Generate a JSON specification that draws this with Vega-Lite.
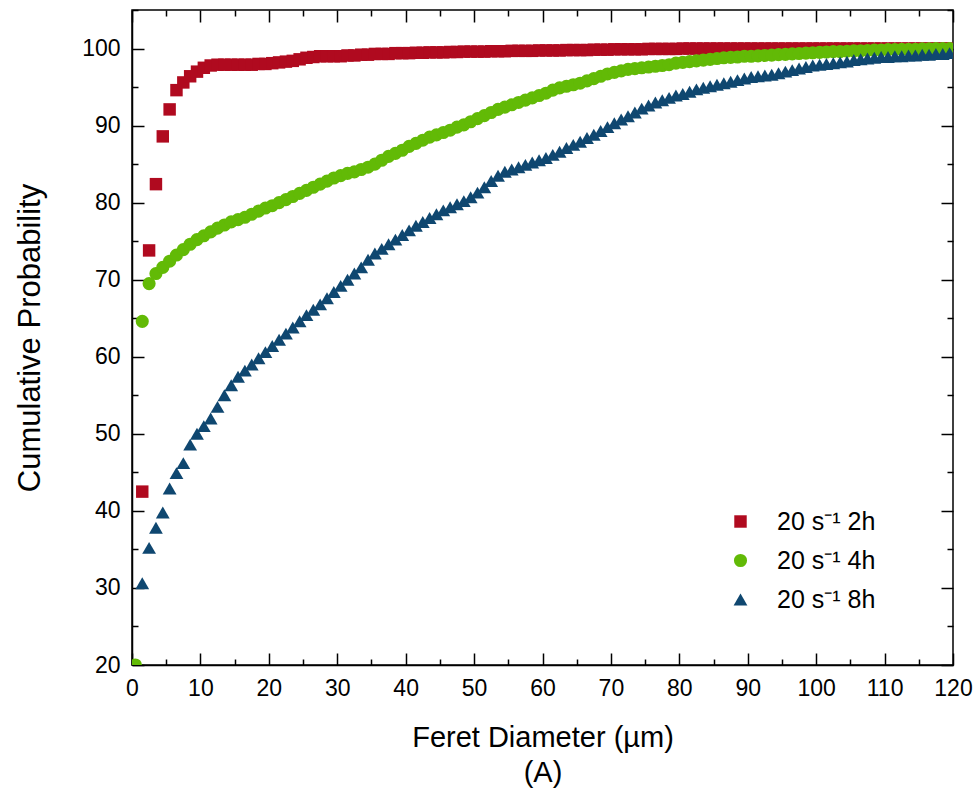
{
  "$schema": "https://vega.github.io/schema/vega-lite/v6.json",
  "width": 821,
  "height": 655,
  "autosize": "none",
  "padding": {"left": 132, "top": 10, "right": 23, "bottom": 126},
  "background": "white",
  "config": {
    "font": "Liberation Sans",
    "view": {"stroke": "black", "strokeWidth": 1.5},
    "axis": {"grid": false, "domainColor": "black", "domainWidth": 1.5, "tickColor": "black", "tickWidth": 1.5, "labelColor": "black", "titleColor": "black", "labelFont": "Liberation Sans", "titleFont": "Liberation Sans", "titleFontWeight": "normal"}
  },
  "datasets": {
    "pts": [
      {"s": "20 s⁻¹ 2h", "x": 1.5, "p": 42.5}, {"s": "20 s⁻¹ 2h", "x": 2.5, "p": 73.8}, {"s": "20 s⁻¹ 2h", "x": 3.5, "p": 82.4}, {"s": "20 s⁻¹ 2h", "x": 4.5, "p": 88.6}, {"s": "20 s⁻¹ 2h", "x": 5.5, "p": 92.1}, {"s": "20 s⁻¹ 2h", "x": 6.5, "p": 94.6}, {"s": "20 s⁻¹ 2h", "x": 7.5, "p": 95.6}, {"s": "20 s⁻¹ 2h", "x": 8.5, "p": 96.4}, {"s": "20 s⁻¹ 2h", "x": 9.5, "p": 97.0}, {"s": "20 s⁻¹ 2h", "x": 10.5, "p": 97.5},
      {"s": "20 s⁻¹ 2h", "x": 11.5, "p": 97.8}, {"s": "20 s⁻¹ 2h", "x": 12.5, "p": 97.9}, {"s": "20 s⁻¹ 2h", "x": 13.5, "p": 97.9}, {"s": "20 s⁻¹ 2h", "x": 14.5, "p": 97.9}, {"s": "20 s⁻¹ 2h", "x": 15.5, "p": 97.9}, {"s": "20 s⁻¹ 2h", "x": 16.5, "p": 97.9}, {"s": "20 s⁻¹ 2h", "x": 17.5, "p": 97.9}, {"s": "20 s⁻¹ 2h", "x": 18.5, "p": 98.0}, {"s": "20 s⁻¹ 2h", "x": 19.5, "p": 98.0}, {"s": "20 s⁻¹ 2h", "x": 20.5, "p": 98.1},
      {"s": "20 s⁻¹ 2h", "x": 21.5, "p": 98.2}, {"s": "20 s⁻¹ 2h", "x": 22.5, "p": 98.3}, {"s": "20 s⁻¹ 2h", "x": 23.5, "p": 98.4}, {"s": "20 s⁻¹ 2h", "x": 24.5, "p": 98.6}, {"s": "20 s⁻¹ 2h", "x": 25.5, "p": 98.8}, {"s": "20 s⁻¹ 2h", "x": 26.5, "p": 98.9}, {"s": "20 s⁻¹ 2h", "x": 27.5, "p": 99.0}, {"s": "20 s⁻¹ 2h", "x": 28.5, "p": 99.0}, {"s": "20 s⁻¹ 2h", "x": 29.5, "p": 99.0}, {"s": "20 s⁻¹ 2h", "x": 30.5, "p": 99.0},
      {"s": "20 s⁻¹ 2h", "x": 31.5, "p": 99.1}, {"s": "20 s⁻¹ 2h", "x": 32.5, "p": 99.1}, {"s": "20 s⁻¹ 2h", "x": 33.5, "p": 99.2}, {"s": "20 s⁻¹ 2h", "x": 34.5, "p": 99.2}, {"s": "20 s⁻¹ 2h", "x": 35.5, "p": 99.3}, {"s": "20 s⁻¹ 2h", "x": 36.5, "p": 99.3}, {"s": "20 s⁻¹ 2h", "x": 37.5, "p": 99.3}, {"s": "20 s⁻¹ 2h", "x": 38.5, "p": 99.4}, {"s": "20 s⁻¹ 2h", "x": 39.5, "p": 99.4}, {"s": "20 s⁻¹ 2h", "x": 40.5, "p": 99.4},
      {"s": "20 s⁻¹ 2h", "x": 41.5, "p": 99.45}, {"s": "20 s⁻¹ 2h", "x": 42.5, "p": 99.45}, {"s": "20 s⁻¹ 2h", "x": 43.5, "p": 99.5}, {"s": "20 s⁻¹ 2h", "x": 44.5, "p": 99.5}, {"s": "20 s⁻¹ 2h", "x": 45.5, "p": 99.5}, {"s": "20 s⁻¹ 2h", "x": 46.5, "p": 99.55}, {"s": "20 s⁻¹ 2h", "x": 47.5, "p": 99.55}, {"s": "20 s⁻¹ 2h", "x": 48.5, "p": 99.6}, {"s": "20 s⁻¹ 2h", "x": 49.5, "p": 99.6}, {"s": "20 s⁻¹ 2h", "x": 50.5, "p": 99.6},
      {"s": "20 s⁻¹ 2h", "x": 51.5, "p": 99.6}, {"s": "20 s⁻¹ 2h", "x": 52.5, "p": 99.65}, {"s": "20 s⁻¹ 2h", "x": 53.5, "p": 99.65}, {"s": "20 s⁻¹ 2h", "x": 54.5, "p": 99.65}, {"s": "20 s⁻¹ 2h", "x": 55.5, "p": 99.7}, {"s": "20 s⁻¹ 2h", "x": 56.5, "p": 99.7}, {"s": "20 s⁻¹ 2h", "x": 57.5, "p": 99.7}, {"s": "20 s⁻¹ 2h", "x": 58.5, "p": 99.7}, {"s": "20 s⁻¹ 2h", "x": 59.5, "p": 99.75}, {"s": "20 s⁻¹ 2h", "x": 60.5, "p": 99.75},
      {"s": "20 s⁻¹ 2h", "x": 61.5, "p": 99.75}, {"s": "20 s⁻¹ 2h", "x": 62.5, "p": 99.75}, {"s": "20 s⁻¹ 2h", "x": 63.5, "p": 99.8}, {"s": "20 s⁻¹ 2h", "x": 64.5, "p": 99.8}, {"s": "20 s⁻¹ 2h", "x": 65.5, "p": 99.8}, {"s": "20 s⁻¹ 2h", "x": 66.5, "p": 99.8}, {"s": "20 s⁻¹ 2h", "x": 67.5, "p": 99.85}, {"s": "20 s⁻¹ 2h", "x": 68.5, "p": 99.85}, {"s": "20 s⁻¹ 2h", "x": 69.5, "p": 99.85}, {"s": "20 s⁻¹ 2h", "x": 70.5, "p": 99.9},
      {"s": "20 s⁻¹ 2h", "x": 71.5, "p": 99.9}, {"s": "20 s⁻¹ 2h", "x": 72.5, "p": 99.9}, {"s": "20 s⁻¹ 2h", "x": 73.5, "p": 99.9}, {"s": "20 s⁻¹ 2h", "x": 74.5, "p": 99.9}, {"s": "20 s⁻¹ 2h", "x": 75.5, "p": 99.95}, {"s": "20 s⁻¹ 2h", "x": 76.5, "p": 99.95}, {"s": "20 s⁻¹ 2h", "x": 77.5, "p": 99.95}, {"s": "20 s⁻¹ 2h", "x": 78.5, "p": 99.95}, {"s": "20 s⁻¹ 2h", "x": 79.5, "p": 99.95}, {"s": "20 s⁻¹ 2h", "x": 80.5, "p": 100},
      {"s": "20 s⁻¹ 2h", "x": 81.5, "p": 100}, {"s": "20 s⁻¹ 2h", "x": 82.5, "p": 100}, {"s": "20 s⁻¹ 2h", "x": 83.5, "p": 100}, {"s": "20 s⁻¹ 2h", "x": 84.5, "p": 100}, {"s": "20 s⁻¹ 2h", "x": 85.5, "p": 100}, {"s": "20 s⁻¹ 2h", "x": 86.5, "p": 100}, {"s": "20 s⁻¹ 2h", "x": 87.5, "p": 100}, {"s": "20 s⁻¹ 2h", "x": 88.5, "p": 100}, {"s": "20 s⁻¹ 2h", "x": 89.5, "p": 100}, {"s": "20 s⁻¹ 2h", "x": 90.5, "p": 100},
      {"s": "20 s⁻¹ 2h", "x": 91.5, "p": 100}, {"s": "20 s⁻¹ 2h", "x": 92.5, "p": 100}, {"s": "20 s⁻¹ 2h", "x": 93.5, "p": 100}, {"s": "20 s⁻¹ 2h", "x": 94.5, "p": 100}, {"s": "20 s⁻¹ 2h", "x": 95.5, "p": 100}, {"s": "20 s⁻¹ 2h", "x": 96.5, "p": 100}, {"s": "20 s⁻¹ 2h", "x": 97.5, "p": 100}, {"s": "20 s⁻¹ 2h", "x": 98.5, "p": 100}, {"s": "20 s⁻¹ 2h", "x": 99.5, "p": 100}, {"s": "20 s⁻¹ 2h", "x": 100.5, "p": 100},
      {"s": "20 s⁻¹ 2h", "x": 101.5, "p": 100}, {"s": "20 s⁻¹ 2h", "x": 102.5, "p": 100}, {"s": "20 s⁻¹ 2h", "x": 103.5, "p": 100}, {"s": "20 s⁻¹ 2h", "x": 104.5, "p": 100}, {"s": "20 s⁻¹ 2h", "x": 105.5, "p": 100}, {"s": "20 s⁻¹ 2h", "x": 106.5, "p": 100}, {"s": "20 s⁻¹ 2h", "x": 107.5, "p": 100}, {"s": "20 s⁻¹ 2h", "x": 108.5, "p": 100}, {"s": "20 s⁻¹ 2h", "x": 109.5, "p": 100}, {"s": "20 s⁻¹ 2h", "x": 110.5, "p": 100},
      {"s": "20 s⁻¹ 2h", "x": 111.5, "p": 100}, {"s": "20 s⁻¹ 2h", "x": 112.5, "p": 100}, {"s": "20 s⁻¹ 2h", "x": 113.5, "p": 100}, {"s": "20 s⁻¹ 2h", "x": 114.5, "p": 100}, {"s": "20 s⁻¹ 2h", "x": 115.5, "p": 100}, {"s": "20 s⁻¹ 2h", "x": 116.5, "p": 100}, {"s": "20 s⁻¹ 2h", "x": 117.5, "p": 100}, {"s": "20 s⁻¹ 2h", "x": 118.5, "p": 100}, {"s": "20 s⁻¹ 2h", "x": 119.5, "p": 100},

      {"s": "20 s⁻¹ 4h", "x": 0.5, "p": 20.0}, {"s": "20 s⁻¹ 4h", "x": 1.5, "p": 64.6}, {"s": "20 s⁻¹ 4h", "x": 2.5, "p": 69.5}, {"s": "20 s⁻¹ 4h", "x": 3.5, "p": 70.8}, {"s": "20 s⁻¹ 4h", "x": 4.5, "p": 71.6}, {"s": "20 s⁻¹ 4h", "x": 5.5, "p": 72.4}, {"s": "20 s⁻¹ 4h", "x": 6.5, "p": 73.2}, {"s": "20 s⁻¹ 4h", "x": 7.5, "p": 73.9}, {"s": "20 s⁻¹ 4h", "x": 8.5, "p": 74.6}, {"s": "20 s⁻¹ 4h", "x": 9.5, "p": 75.2}, {"s": "20 s⁻¹ 4h", "x": 10.5, "p": 75.7},
      {"s": "20 s⁻¹ 4h", "x": 11.5, "p": 76.2}, {"s": "20 s⁻¹ 4h", "x": 12.5, "p": 76.7}, {"s": "20 s⁻¹ 4h", "x": 13.5, "p": 77.1}, {"s": "20 s⁻¹ 4h", "x": 14.5, "p": 77.5}, {"s": "20 s⁻¹ 4h", "x": 15.5, "p": 77.8}, {"s": "20 s⁻¹ 4h", "x": 16.5, "p": 78.1}, {"s": "20 s⁻¹ 4h", "x": 17.5, "p": 78.5}, {"s": "20 s⁻¹ 4h", "x": 18.5, "p": 78.9}, {"s": "20 s⁻¹ 4h", "x": 19.5, "p": 79.3}, {"s": "20 s⁻¹ 4h", "x": 20.5, "p": 79.6},
      {"s": "20 s⁻¹ 4h", "x": 21.5, "p": 80.0}, {"s": "20 s⁻¹ 4h", "x": 22.5, "p": 80.4}, {"s": "20 s⁻¹ 4h", "x": 23.5, "p": 80.8}, {"s": "20 s⁻¹ 4h", "x": 24.5, "p": 81.2}, {"s": "20 s⁻¹ 4h", "x": 25.5, "p": 81.6}, {"s": "20 s⁻¹ 4h", "x": 26.5, "p": 82.0}, {"s": "20 s⁻¹ 4h", "x": 27.5, "p": 82.4}, {"s": "20 s⁻¹ 4h", "x": 28.5, "p": 82.8}, {"s": "20 s⁻¹ 4h", "x": 29.5, "p": 83.2}, {"s": "20 s⁻¹ 4h", "x": 30.5, "p": 83.5},
      {"s": "20 s⁻¹ 4h", "x": 31.5, "p": 83.8}, {"s": "20 s⁻¹ 4h", "x": 32.5, "p": 84.0}, {"s": "20 s⁻¹ 4h", "x": 33.5, "p": 84.3}, {"s": "20 s⁻¹ 4h", "x": 34.5, "p": 84.6}, {"s": "20 s⁻¹ 4h", "x": 35.5, "p": 85.0}, {"s": "20 s⁻¹ 4h", "x": 36.5, "p": 85.5}, {"s": "20 s⁻¹ 4h", "x": 37.5, "p": 86.0}, {"s": "20 s⁻¹ 4h", "x": 38.5, "p": 86.4}, {"s": "20 s⁻¹ 4h", "x": 39.5, "p": 86.8}, {"s": "20 s⁻¹ 4h", "x": 40.5, "p": 87.3},
      {"s": "20 s⁻¹ 4h", "x": 41.5, "p": 87.7}, {"s": "20 s⁻¹ 4h", "x": 42.5, "p": 88.1}, {"s": "20 s⁻¹ 4h", "x": 43.5, "p": 88.5}, {"s": "20 s⁻¹ 4h", "x": 44.5, "p": 88.8}, {"s": "20 s⁻¹ 4h", "x": 45.5, "p": 89.1}, {"s": "20 s⁻¹ 4h", "x": 46.5, "p": 89.4}, {"s": "20 s⁻¹ 4h", "x": 47.5, "p": 89.8}, {"s": "20 s⁻¹ 4h", "x": 48.5, "p": 90.1}, {"s": "20 s⁻¹ 4h", "x": 49.5, "p": 90.5}, {"s": "20 s⁻¹ 4h", "x": 50.5, "p": 90.9},
      {"s": "20 s⁻¹ 4h", "x": 51.5, "p": 91.3}, {"s": "20 s⁻¹ 4h", "x": 52.5, "p": 91.7}, {"s": "20 s⁻¹ 4h", "x": 53.5, "p": 92.1}, {"s": "20 s⁻¹ 4h", "x": 54.5, "p": 92.4}, {"s": "20 s⁻¹ 4h", "x": 55.5, "p": 92.7}, {"s": "20 s⁻¹ 4h", "x": 56.5, "p": 93.0}, {"s": "20 s⁻¹ 4h", "x": 57.5, "p": 93.3}, {"s": "20 s⁻¹ 4h", "x": 58.5, "p": 93.6}, {"s": "20 s⁻¹ 4h", "x": 59.5, "p": 93.9}, {"s": "20 s⁻¹ 4h", "x": 60.5, "p": 94.2},
      {"s": "20 s⁻¹ 4h", "x": 61.5, "p": 94.6}, {"s": "20 s⁻¹ 4h", "x": 62.5, "p": 94.9}, {"s": "20 s⁻¹ 4h", "x": 63.5, "p": 95.1}, {"s": "20 s⁻¹ 4h", "x": 64.5, "p": 95.3}, {"s": "20 s⁻¹ 4h", "x": 65.5, "p": 95.5}, {"s": "20 s⁻¹ 4h", "x": 66.5, "p": 95.8}, {"s": "20 s⁻¹ 4h", "x": 67.5, "p": 96.1}, {"s": "20 s⁻¹ 4h", "x": 68.5, "p": 96.4}, {"s": "20 s⁻¹ 4h", "x": 69.5, "p": 96.7}, {"s": "20 s⁻¹ 4h", "x": 70.5, "p": 96.9},
      {"s": "20 s⁻¹ 4h", "x": 71.5, "p": 97.1}, {"s": "20 s⁻¹ 4h", "x": 72.5, "p": 97.3}, {"s": "20 s⁻¹ 4h", "x": 73.5, "p": 97.4}, {"s": "20 s⁻¹ 4h", "x": 74.5, "p": 97.5}, {"s": "20 s⁻¹ 4h", "x": 75.5, "p": 97.6}, {"s": "20 s⁻¹ 4h", "x": 76.5, "p": 97.7}, {"s": "20 s⁻¹ 4h", "x": 77.5, "p": 97.8}, {"s": "20 s⁻¹ 4h", "x": 78.5, "p": 97.9}, {"s": "20 s⁻¹ 4h", "x": 79.5, "p": 98.1}, {"s": "20 s⁻¹ 4h", "x": 80.5, "p": 98.2},
      {"s": "20 s⁻¹ 4h", "x": 81.5, "p": 98.3}, {"s": "20 s⁻¹ 4h", "x": 82.5, "p": 98.4}, {"s": "20 s⁻¹ 4h", "x": 83.5, "p": 98.5}, {"s": "20 s⁻¹ 4h", "x": 84.5, "p": 98.6}, {"s": "20 s⁻¹ 4h", "x": 85.5, "p": 98.7}, {"s": "20 s⁻¹ 4h", "x": 86.5, "p": 98.8}, {"s": "20 s⁻¹ 4h", "x": 87.5, "p": 98.85}, {"s": "20 s⁻¹ 4h", "x": 88.5, "p": 98.9}, {"s": "20 s⁻¹ 4h", "x": 89.5, "p": 99.0}, {"s": "20 s⁻¹ 4h", "x": 90.5, "p": 99.0},
      {"s": "20 s⁻¹ 4h", "x": 91.5, "p": 99.05}, {"s": "20 s⁻¹ 4h", "x": 92.5, "p": 99.1}, {"s": "20 s⁻¹ 4h", "x": 93.5, "p": 99.15}, {"s": "20 s⁻¹ 4h", "x": 94.5, "p": 99.2}, {"s": "20 s⁻¹ 4h", "x": 95.5, "p": 99.25}, {"s": "20 s⁻¹ 4h", "x": 96.5, "p": 99.3}, {"s": "20 s⁻¹ 4h", "x": 97.5, "p": 99.35}, {"s": "20 s⁻¹ 4h", "x": 98.5, "p": 99.4}, {"s": "20 s⁻¹ 4h", "x": 99.5, "p": 99.45}, {"s": "20 s⁻¹ 4h", "x": 100.5, "p": 99.5},
      {"s": "20 s⁻¹ 4h", "x": 101.5, "p": 99.55}, {"s": "20 s⁻¹ 4h", "x": 102.5, "p": 99.6}, {"s": "20 s⁻¹ 4h", "x": 103.5, "p": 99.6}, {"s": "20 s⁻¹ 4h", "x": 104.5, "p": 99.65}, {"s": "20 s⁻¹ 4h", "x": 105.5, "p": 99.7}, {"s": "20 s⁻¹ 4h", "x": 106.5, "p": 99.7}, {"s": "20 s⁻¹ 4h", "x": 107.5, "p": 99.75}, {"s": "20 s⁻¹ 4h", "x": 108.5, "p": 99.8}, {"s": "20 s⁻¹ 4h", "x": 109.5, "p": 99.8}, {"s": "20 s⁻¹ 4h", "x": 110.5, "p": 99.85},
      {"s": "20 s⁻¹ 4h", "x": 111.5, "p": 99.85}, {"s": "20 s⁻¹ 4h", "x": 112.5, "p": 99.9}, {"s": "20 s⁻¹ 4h", "x": 113.5, "p": 99.9}, {"s": "20 s⁻¹ 4h", "x": 114.5, "p": 99.9}, {"s": "20 s⁻¹ 4h", "x": 115.5, "p": 99.95}, {"s": "20 s⁻¹ 4h", "x": 116.5, "p": 99.95}, {"s": "20 s⁻¹ 4h", "x": 117.5, "p": 100}, {"s": "20 s⁻¹ 4h", "x": 118.5, "p": 100}, {"s": "20 s⁻¹ 4h", "x": 119.5, "p": 100},

      {"s": "20 s⁻¹ 8h", "x": 1.5, "p": 30.6}, {"s": "20 s⁻¹ 8h", "x": 2.5, "p": 35.2}, {"s": "20 s⁻¹ 8h", "x": 3.5, "p": 37.8}, {"s": "20 s⁻¹ 8h", "x": 4.5, "p": 39.8}, {"s": "20 s⁻¹ 8h", "x": 5.5, "p": 42.9}, {"s": "20 s⁻¹ 8h", "x": 6.5, "p": 44.9}, {"s": "20 s⁻¹ 8h", "x": 7.5, "p": 46.2}, {"s": "20 s⁻¹ 8h", "x": 8.5, "p": 48.6}, {"s": "20 s⁻¹ 8h", "x": 9.5, "p": 50.0}, {"s": "20 s⁻¹ 8h", "x": 10.5, "p": 51.0},
      {"s": "20 s⁻¹ 8h", "x": 11.5, "p": 52.0}, {"s": "20 s⁻¹ 8h", "x": 12.5, "p": 53.5}, {"s": "20 s⁻¹ 8h", "x": 13.5, "p": 55.0}, {"s": "20 s⁻¹ 8h", "x": 14.5, "p": 56.3}, {"s": "20 s⁻¹ 8h", "x": 15.5, "p": 57.4}, {"s": "20 s⁻¹ 8h", "x": 16.5, "p": 58.2}, {"s": "20 s⁻¹ 8h", "x": 17.5, "p": 59.0}, {"s": "20 s⁻¹ 8h", "x": 18.5, "p": 59.8}, {"s": "20 s⁻¹ 8h", "x": 19.5, "p": 60.6}, {"s": "20 s⁻¹ 8h", "x": 20.5, "p": 61.4},
      {"s": "20 s⁻¹ 8h", "x": 21.5, "p": 62.2}, {"s": "20 s⁻¹ 8h", "x": 22.5, "p": 63.0}, {"s": "20 s⁻¹ 8h", "x": 23.5, "p": 63.8}, {"s": "20 s⁻¹ 8h", "x": 24.5, "p": 64.6}, {"s": "20 s⁻¹ 8h", "x": 25.5, "p": 65.4}, {"s": "20 s⁻¹ 8h", "x": 26.5, "p": 66.1}, {"s": "20 s⁻¹ 8h", "x": 27.5, "p": 66.8}, {"s": "20 s⁻¹ 8h", "x": 28.5, "p": 67.6}, {"s": "20 s⁻¹ 8h", "x": 29.5, "p": 68.4}, {"s": "20 s⁻¹ 8h", "x": 30.5, "p": 69.2},
      {"s": "20 s⁻¹ 8h", "x": 31.5, "p": 70.0}, {"s": "20 s⁻¹ 8h", "x": 32.5, "p": 70.8}, {"s": "20 s⁻¹ 8h", "x": 33.5, "p": 71.6}, {"s": "20 s⁻¹ 8h", "x": 34.5, "p": 72.6}, {"s": "20 s⁻¹ 8h", "x": 35.5, "p": 73.4}, {"s": "20 s⁻¹ 8h", "x": 36.5, "p": 74.0}, {"s": "20 s⁻¹ 8h", "x": 37.5, "p": 74.6}, {"s": "20 s⁻¹ 8h", "x": 38.5, "p": 75.2}, {"s": "20 s⁻¹ 8h", "x": 39.5, "p": 75.8}, {"s": "20 s⁻¹ 8h", "x": 40.5, "p": 76.4},
      {"s": "20 s⁻¹ 8h", "x": 41.5, "p": 77.0}, {"s": "20 s⁻¹ 8h", "x": 42.5, "p": 77.5}, {"s": "20 s⁻¹ 8h", "x": 43.5, "p": 78.0}, {"s": "20 s⁻¹ 8h", "x": 44.5, "p": 78.5}, {"s": "20 s⁻¹ 8h", "x": 45.5, "p": 79.0}, {"s": "20 s⁻¹ 8h", "x": 46.5, "p": 79.4}, {"s": "20 s⁻¹ 8h", "x": 47.5, "p": 79.8}, {"s": "20 s⁻¹ 8h", "x": 48.5, "p": 80.2}, {"s": "20 s⁻¹ 8h", "x": 49.5, "p": 80.7}, {"s": "20 s⁻¹ 8h", "x": 50.5, "p": 81.3},
      {"s": "20 s⁻¹ 8h", "x": 51.5, "p": 82.0}, {"s": "20 s⁻¹ 8h", "x": 52.5, "p": 82.8}, {"s": "20 s⁻¹ 8h", "x": 53.5, "p": 83.5}, {"s": "20 s⁻¹ 8h", "x": 54.5, "p": 84.0}, {"s": "20 s⁻¹ 8h", "x": 55.5, "p": 84.3}, {"s": "20 s⁻¹ 8h", "x": 56.5, "p": 84.6}, {"s": "20 s⁻¹ 8h", "x": 57.5, "p": 84.9}, {"s": "20 s⁻¹ 8h", "x": 58.5, "p": 85.2}, {"s": "20 s⁻¹ 8h", "x": 59.5, "p": 85.5}, {"s": "20 s⁻¹ 8h", "x": 60.5, "p": 85.8},
      {"s": "20 s⁻¹ 8h", "x": 61.5, "p": 86.2}, {"s": "20 s⁻¹ 8h", "x": 62.5, "p": 86.6}, {"s": "20 s⁻¹ 8h", "x": 63.5, "p": 87.1}, {"s": "20 s⁻¹ 8h", "x": 64.5, "p": 87.5}, {"s": "20 s⁻¹ 8h", "x": 65.5, "p": 87.9}, {"s": "20 s⁻¹ 8h", "x": 66.5, "p": 88.4}, {"s": "20 s⁻¹ 8h", "x": 67.5, "p": 88.8}, {"s": "20 s⁻¹ 8h", "x": 68.5, "p": 89.3}, {"s": "20 s⁻¹ 8h", "x": 69.5, "p": 89.8}, {"s": "20 s⁻¹ 8h", "x": 70.5, "p": 90.3},
      {"s": "20 s⁻¹ 8h", "x": 71.5, "p": 90.8}, {"s": "20 s⁻¹ 8h", "x": 72.5, "p": 91.2}, {"s": "20 s⁻¹ 8h", "x": 73.5, "p": 91.7}, {"s": "20 s⁻¹ 8h", "x": 74.5, "p": 92.2}, {"s": "20 s⁻¹ 8h", "x": 75.5, "p": 92.6}, {"s": "20 s⁻¹ 8h", "x": 76.5, "p": 93.0}, {"s": "20 s⁻¹ 8h", "x": 77.5, "p": 93.3}, {"s": "20 s⁻¹ 8h", "x": 78.5, "p": 93.6}, {"s": "20 s⁻¹ 8h", "x": 79.5, "p": 93.9}, {"s": "20 s⁻¹ 8h", "x": 80.5, "p": 94.1},
      {"s": "20 s⁻¹ 8h", "x": 81.5, "p": 94.4}, {"s": "20 s⁻¹ 8h", "x": 82.5, "p": 94.7}, {"s": "20 s⁻¹ 8h", "x": 83.5, "p": 94.9}, {"s": "20 s⁻¹ 8h", "x": 84.5, "p": 95.1}, {"s": "20 s⁻¹ 8h", "x": 85.5, "p": 95.3}, {"s": "20 s⁻¹ 8h", "x": 86.5, "p": 95.5}, {"s": "20 s⁻¹ 8h", "x": 87.5, "p": 95.7}, {"s": "20 s⁻¹ 8h", "x": 88.5, "p": 95.9}, {"s": "20 s⁻¹ 8h", "x": 89.5, "p": 96.1}, {"s": "20 s⁻¹ 8h", "x": 90.5, "p": 96.3},
      {"s": "20 s⁻¹ 8h", "x": 91.5, "p": 96.4}, {"s": "20 s⁻¹ 8h", "x": 92.5, "p": 96.5}, {"s": "20 s⁻¹ 8h", "x": 93.5, "p": 96.6}, {"s": "20 s⁻¹ 8h", "x": 94.5, "p": 96.8}, {"s": "20 s⁻¹ 8h", "x": 95.5, "p": 97.0}, {"s": "20 s⁻¹ 8h", "x": 96.5, "p": 97.2}, {"s": "20 s⁻¹ 8h", "x": 97.5, "p": 97.4}, {"s": "20 s⁻¹ 8h", "x": 98.5, "p": 97.6}, {"s": "20 s⁻¹ 8h", "x": 99.5, "p": 97.8}, {"s": "20 s⁻¹ 8h", "x": 100.5, "p": 97.9},
      {"s": "20 s⁻¹ 8h", "x": 101.5, "p": 98.0}, {"s": "20 s⁻¹ 8h", "x": 102.5, "p": 98.1}, {"s": "20 s⁻¹ 8h", "x": 103.5, "p": 98.2}, {"s": "20 s⁻¹ 8h", "x": 104.5, "p": 98.3}, {"s": "20 s⁻¹ 8h", "x": 105.5, "p": 98.5}, {"s": "20 s⁻¹ 8h", "x": 106.5, "p": 98.6}, {"s": "20 s⁻¹ 8h", "x": 107.5, "p": 98.7}, {"s": "20 s⁻¹ 8h", "x": 108.5, "p": 98.8}, {"s": "20 s⁻¹ 8h", "x": 109.5, "p": 98.9}, {"s": "20 s⁻¹ 8h", "x": 110.5, "p": 98.9},
      {"s": "20 s⁻¹ 8h", "x": 111.5, "p": 99.0}, {"s": "20 s⁻¹ 8h", "x": 112.5, "p": 99.0}, {"s": "20 s⁻¹ 8h", "x": 113.5, "p": 99.1}, {"s": "20 s⁻¹ 8h", "x": 114.5, "p": 99.1}, {"s": "20 s⁻¹ 8h", "x": 115.5, "p": 99.2}, {"s": "20 s⁻¹ 8h", "x": 116.5, "p": 99.2}, {"s": "20 s⁻¹ 8h", "x": 117.5, "p": 99.3}, {"s": "20 s⁻¹ 8h", "x": 118.5, "p": 99.3}, {"s": "20 s⁻¹ 8h", "x": 119.5, "p": 99.4}
    ]
  },
  "data": {"name": "pts"},
  "layer": [
    {
      "mark": {"type": "point", "filled": true, "opacity": 1, "clip": true},
      "encoding": {
        "x": {
          "field": "x", "type": "quantitative",
          "scale": {"domain": [0, 120], "nice": false, "zero": false},
          "axis": {
            "orient": "bottom",
            "title": ["Feret Diameter (µm)", "(A)"],
            "titleFontSize": 29, "titleLineHeight": 35, "titlePadding": 17,
            "values": [0, 5, 10, 15, 20, 25, 30, 35, 40, 45, 50, 55, 60, 65, 70, 75, 80, 85, 90, 95, 100, 105, 110, 115, 120],
            "labelExpr": "datum.value % 10 === 0 ? datum.label : ''",
            "labelFontSize": 23, "labelPadding": 24, "labelFlush": false, "labelOverlap": false,
            "tickSize": {"condition": {"test": "datum.value % 10 === 0", "value": -12}, "value": -6}
          }
        },
        "y": {
          "field": "p", "type": "quantitative",
          "scale": {"domain": [20, 105], "nice": false, "zero": false},
          "axis": {
            "orient": "left",
            "title": "Cumulative Probability",
            "titleFontSize": 31, "titlePadding": 35,
            "values": [20, 25, 30, 35, 40, 45, 50, 55, 60, 65, 70, 75, 80, 85, 90, 95, 100, 105],
            "labelExpr": "datum.value % 10 === 0 ? datum.label : ''",
            "labelFontSize": 23, "labelPadding": 24, "labelFlush": false, "labelOverlap": false,
            "tickSize": {"condition": {"test": "datum.value % 10 === 0", "value": -12}, "value": -6}
          }
        },
        "color": {
          "field": "s", "type": "nominal",
          "scale": {"domain": ["20 s⁻¹ 2h", "20 s⁻¹ 4h", "20 s⁻¹ 8h"], "range": ["#B00A1F", "#62BA06", "#0F4770"]},
          "legend": {
            "title": null, "orient": "none", "legendX": 596, "legendY": 499,
            "labelFontSize": 25, "labelFont": "Liberation Sans", "labelColor": "black",
            "symbolSize": 170, "rowPadding": 13, "labelOffset": 24, "symbolStrokeWidth": 0
          }
        },
        "shape": {
          "field": "s", "type": "nominal",
          "scale": {"domain": ["20 s⁻¹ 2h", "20 s⁻¹ 4h", "20 s⁻¹ 8h"], "range": ["square", "circle", "triangle-up"]},
          "legend": null
        },
        "size": {
          "field": "s", "type": "nominal",
          "scale": {"domain": ["20 s⁻¹ 2h", "20 s⁻¹ 4h", "20 s⁻¹ 8h"], "range": [155, 190, 290]},
          "legend": null
        }
      }
    },
    {
      "mark": {"type": "point", "opacity": 0},
      "encoding": {
        "x": {
          "field": "x", "type": "quantitative",
          "axis": {
            "orient": "top", "title": null, "labels": false, "domain": false,
            "values": [0, 5, 10, 15, 20, 25, 30, 35, 40, 45, 50, 55, 60, 65, 70, 75, 80, 85, 90, 95, 100, 105, 110, 115, 120],
            "tickSize": {"condition": {"test": "datum.value % 10 === 0", "value": -12}, "value": -6}
          }
        },
        "y": {
          "field": "p", "type": "quantitative",
          "axis": {
            "orient": "right", "title": null, "labels": false, "domain": false,
            "values": [20, 25, 30, 35, 40, 45, 50, 55, 60, 65, 70, 75, 80, 85, 90, 95, 100, 105],
            "tickSize": {"condition": {"test": "datum.value % 10 === 0", "value": -12}, "value": -6}
          }
        }
      }
    }
  ],
  "resolve": {"axis": {"x": "independent", "y": "independent"}}
}
